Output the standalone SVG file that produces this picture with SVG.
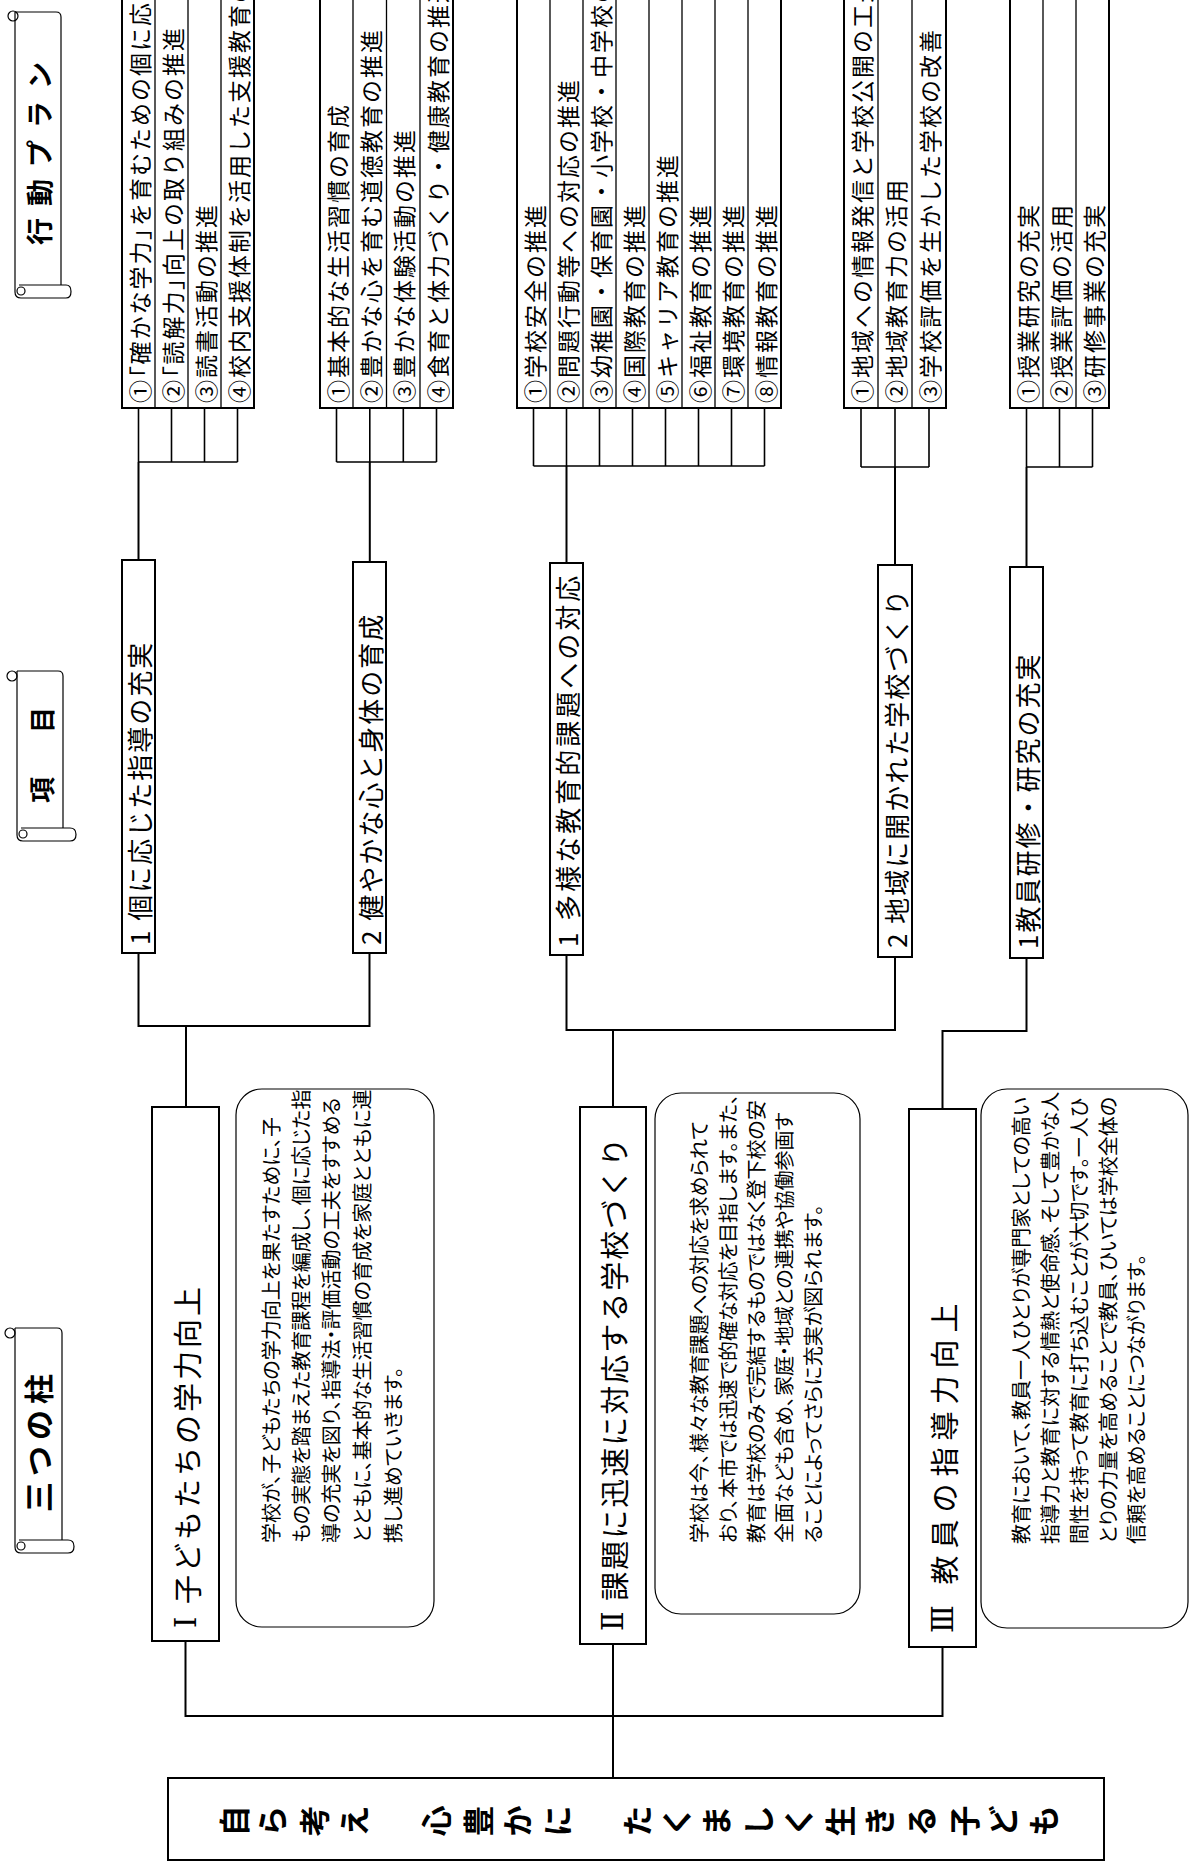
<svg xmlns="http://www.w3.org/2000/svg" width="1192" height="1865" viewBox="0 0 1192 1865">
<style>
.bg{fill:#fff}
.box{fill:#fff;stroke:#000;stroke-width:2}
.dv{stroke:#000;stroke-width:1.3;fill:none}
.conn{fill:none;stroke:#000;stroke-width:2}
.brk{fill:none;stroke:#000;stroke-width:1.6}
.desc{fill:#fff;stroke:#000;stroke-width:1.2}
.scr{fill:none;stroke:#000;stroke-width:1.2}
text{font-family:"Noto Sans CJK JP","Noto Sans CJK SC",sans-serif;fill:#000}
.tp{font-size:23px;letter-spacing:2px}
.pb{font-feature-settings:"palt"}
.ti{font-size:26px;letter-spacing:2px}
.tl{font-size:29px}
.td{font-size:20px;font-feature-settings:"palt"}
.th{font-weight:bold}
.tm{font-size:31px;font-weight:bold}
.rn{font-family:"DejaVu Serif","Noto Sans CJK JP",serif}
</style>
<rect class="bg" x="0" y="0" width="1192" height="1865"/>

<!-- headers -->
<g id="header-plan">
<path class="scr" d="M15,12 H56 Q61,12 61,17 V285 M15,12 V292 M19,285 H66 Q71,285 71,291.5 Q71,298 66,298 H21 Q15,298 15,292"/>
<circle class="scr" cx="13" cy="16" r="5"/>
<circle class="scr" cx="21" cy="291" r="4"/>
<text class="th" style="font-size:27px;letter-spacing:12px" transform="translate(38,245) rotate(-90)" dominant-baseline="central">行動プラン</text>
</g>
<g id="header-item">
<path class="scr" d="M17,671 H58 Q63,671 63,676 V828 M17,671 V835 M21,828 H70 Q76,828 76,834.5 Q76,841 70,841 H23 Q17,841 17,835"/>
<circle class="scr" cx="12" cy="676" r="5"/>
<circle class="scr" cx="23" cy="834" r="4"/>
<text class="th" style="font-size:26px;letter-spacing:44px" transform="translate(40,803) rotate(-90)" dominant-baseline="central">項目</text>
</g>
<g id="header-pillar">
<path class="scr" d="M15,1328 H57 Q62,1328 62,1333 V1540 M15,1328 V1547 M19,1540 H68 Q74,1540 74,1546.5 Q74,1553 68,1553 H21 Q15,1553 15,1547"/>
<circle class="scr" cx="10" cy="1333" r="5"/>
<circle class="scr" cx="21" cy="1546" r="4"/>
<text class="th" style="font-size:30px;letter-spacing:6px" transform="translate(37,1512) rotate(-90)" dominant-baseline="central">三つの柱</text>
</g>

<!-- connectors -->
<g id="connectors">
<path class="brk" d="M138.5,408 V462 M171.5,408 V462 M204.5,408 V462 M237.5,408 V462 M138.5,462 H237.5"/>
<path class="conn" d="M138.5,462 V560"/>
<path class="brk" d="M336.5,408 V462 M369.8,408 V462 M403.3,408 V462 M436.5,408 V462 M336.5,462 H436.5"/>
<path class="conn" d="M369.8,462 V562"/>
<path class="brk" d="M533.5,408 V466 M566.5,408 V466 M599.5,408 V466 M632.5,408 V466 M665.5,408 V466 M698.5,408 V466 M731.5,408 V466 M764.5,408 V466 M533.5,466 H764.5"/>
<path class="conn" d="M566.5,466 V563"/>
<path class="brk" d="M861,408 V467 M895,408 V467 M929,408 V467 M861,467 H929"/>
<path class="conn" d="M895,467 V565"/>
<path class="brk" d="M1026.5,408 V467 M1059.5,408 V467 M1092.5,408 V467 M1026.5,467 H1092.5"/>
<path class="conn" d="M1026.5,467 V567"/>
<path class="conn" d="M138.5,953 V1026 H369.5 V953 M186,1026 V1107"/>
<path class="conn" d="M566.5,955 V1030 H895 V957 M613,1030 V1107"/>
<path class="conn" d="M1026.5,958 V1031 H942.5 V1109"/>
<path class="conn" d="M185.5,1641 V1716 H942.5 V1647 M613,1644 V1778"/>
</g>

<!-- action plan groups -->
<g id="plan-a">
<rect class="box" x="122" y="-5" width="132" height="413"/>
<path class="dv" d="M155,-5 V408 M188,-5 V408 M221,-5 V408"/>
<text class="tp" transform="translate(138.5,403) rotate(-90)" dominant-baseline="central">①<tspan class="pb">「</tspan>確かな学力<tspan class="pb">」</tspan>を育むための個に応じ</text>
<text class="tp" transform="translate(171.5,403) rotate(-90)" dominant-baseline="central">②<tspan class="pb">「</tspan>読解力<tspan class="pb">」</tspan>向上の取り組みの推進</text>
<text class="tp" transform="translate(204.5,403) rotate(-90)" dominant-baseline="central">③読書活動の推進</text>
<text class="tp" transform="translate(237.5,403) rotate(-90)" dominant-baseline="central">④校内支援体制を活用した支援教育の</text>
</g>
<g id="plan-b">
<rect class="box" x="320" y="-5" width="133" height="413"/>
<path class="dv" d="M353,-5 V408 M386.5,-5 V408 M420,-5 V408"/>
<text class="tp" transform="translate(336.5,403) rotate(-90)" dominant-baseline="central">①基本的な生活習慣の育成</text>
<text class="tp" transform="translate(369.8,403) rotate(-90)" dominant-baseline="central">②豊かな心を育む道徳教育の推進</text>
<text class="tp" transform="translate(403.3,403) rotate(-90)" dominant-baseline="central">③豊かな体験活動の推進</text>
<text class="tp" transform="translate(436.5,403) rotate(-90)" dominant-baseline="central">④食育と体力づくり・健康教育の推進</text>
</g>
<g id="plan-c">
<rect class="box" x="517" y="-5" width="264" height="413"/>
<path class="dv" d="M550,-5 V408 M583,-5 V408 M616,-5 V408 M649,-5 V408 M682,-5 V408 M715,-5 V408 M748,-5 V408"/>
<text class="tp" transform="translate(533.5,403) rotate(-90)" dominant-baseline="central">①学校安全の推進</text>
<text class="tp" transform="translate(566.5,403) rotate(-90)" dominant-baseline="central">②問題行動等への対応の推進</text>
<text class="tp" transform="translate(599.5,403) rotate(-90)" dominant-baseline="central">③幼稚園・保育園・小学校・中学校の連</text>
<text class="tp" transform="translate(632.5,403) rotate(-90)" dominant-baseline="central">④国際教育の推進</text>
<text class="tp" transform="translate(665.5,403) rotate(-90)" dominant-baseline="central">⑤キャリア教育の推進</text>
<text class="tp" transform="translate(698.5,403) rotate(-90)" dominant-baseline="central">⑥福祉教育の推進</text>
<text class="tp" transform="translate(731.5,403) rotate(-90)" dominant-baseline="central">⑦環境教育の推進</text>
<text class="tp" transform="translate(764.5,403) rotate(-90)" dominant-baseline="central">⑧情報教育の推進</text>
</g>
<g id="plan-d">
<rect class="box" x="844" y="-5" width="102" height="413"/>
<path class="dv" d="M878,-5 V408 M912,-5 V408"/>
<text class="tp" transform="translate(861,403) rotate(-90)" dominant-baseline="central">①地域への情報発信と学校公開の工夫</text>
<text class="tp" transform="translate(895,403) rotate(-90)" dominant-baseline="central">②地域教育力の活用</text>
<text class="tp" transform="translate(929,403) rotate(-90)" dominant-baseline="central">③学校評価を生かした学校の改善</text>
</g>
<g id="plan-e">
<rect class="box" x="1010" y="-5" width="99" height="413"/>
<path class="dv" d="M1043,-5 V408 M1076,-5 V408"/>
<text class="tp" transform="translate(1026.5,403) rotate(-90)" dominant-baseline="central">①授業研究の充実</text>
<text class="tp" transform="translate(1059.5,403) rotate(-90)" dominant-baseline="central">②授業評価の活用</text>
<text class="tp" transform="translate(1092.5,403) rotate(-90)" dominant-baseline="central">③研修事業の充実</text>
</g>

<!-- items -->
<g id="item-1-1">
<rect class="box" x="122" y="560" width="33" height="393"/>
<text class="ti" transform="translate(138.5,945) rotate(-90)" dominant-baseline="central">1 個に応じた指導の充実</text>
</g>
<g id="item-1-2">
<rect class="box" x="353" y="562" width="33" height="391"/>
<text class="ti" transform="translate(369.5,945) rotate(-90)" dominant-baseline="central">2 健やかな心と身体の育成</text>
</g>
<g id="item-2-1">
<rect class="box" x="550" y="563" width="33" height="392"/>
<text class="ti" style="letter-spacing:3px" transform="translate(566.5,947) rotate(-90)" dominant-baseline="central">1 多様な教育的課題への対応</text>
</g>
<g id="item-2-2">
<rect class="box" x="878" y="565" width="34" height="392"/>
<text class="ti" transform="translate(895,948) rotate(-90)" dominant-baseline="central">2 地域に開かれた学校づくり</text>
</g>
<g id="item-3-1">
<rect class="box" x="1010" y="567" width="33" height="391"/>
<text class="ti" transform="translate(1026.5,949) rotate(-90)" dominant-baseline="central">1教員研修・研究の充実</text>
</g>

<!-- pillars -->
<g id="pillar-1">
<rect class="box" x="152" y="1107" width="67" height="534"/>
<text class="tl" style="letter-spacing:3px" transform="translate(185.5,1628) rotate(-90)" dominant-baseline="central"><tspan class="rn">Ⅰ</tspan> 子どもたちの学力向上</text>
</g>
<g id="desc-1">
<rect class="desc" x="236" y="1089" width="198" height="538" rx="26"/>
<text class="td" transform="translate(270,1543) rotate(-90)" dominant-baseline="central">学校が、子どもたちの学力向上を果たすために、子</text>
<text class="td" transform="translate(300,1543) rotate(-90)" dominant-baseline="central">もの実態を踏まえた教育課程を編成し、個に応じた指</text>
<text class="td" transform="translate(330,1543) rotate(-90)" dominant-baseline="central">導の充実を図り、指導法・評価活動の工夫をすすめる</text>
<text class="td" transform="translate(361,1543) rotate(-90)" dominant-baseline="central">とともに、基本的な生活習慣の育成を家庭とともに連</text>
<text class="td" transform="translate(392,1543) rotate(-90)" dominant-baseline="central">携し進めていきます。</text>
</g>
<g id="pillar-2">
<rect class="box" x="580" y="1107" width="66" height="537"/>
<text class="tl" style="letter-spacing:2px" transform="translate(613,1631) rotate(-90)" dominant-baseline="central"><tspan class="rn">Ⅱ</tspan> 課題に迅速に対応する学校づくり</text>
</g>
<g id="desc-2">
<rect class="desc" x="655" y="1093" width="205" height="521" rx="26"/>
<text class="td" transform="translate(698,1543) rotate(-90)" dominant-baseline="central">学校は今、様々な教育課題への対応を求められて</text>
<text class="td" transform="translate(727,1543) rotate(-90)" dominant-baseline="central">おり、本市では迅速で的確な対応を目指します。また、</text>
<text class="td" transform="translate(755,1543) rotate(-90)" dominant-baseline="central">教育は学校のみで完結するものではなく登下校の安</text>
<text class="td" transform="translate(783,1543) rotate(-90)" dominant-baseline="central">全面なども含め、家庭・地域との連携や協働参画す</text>
<text class="td" transform="translate(812,1543) rotate(-90)" dominant-baseline="central">ることによってさらに充実が図られます。</text>
</g>
<g id="pillar-3">
<rect class="box" x="909" y="1109" width="67" height="538"/>
<text class="tl" style="letter-spacing:7px" transform="translate(942.5,1633) rotate(-90)" dominant-baseline="central"><tspan class="rn">Ⅲ</tspan> 教員の指導力向上</text>
</g>
<g id="desc-3">
<rect class="desc" x="981" y="1089" width="207" height="539" rx="26"/>
<text class="td" transform="translate(1020,1544) rotate(-90)" dominant-baseline="central">教育において、教員一人ひとりが専門家としての高い</text>
<text class="td" transform="translate(1049,1544) rotate(-90)" dominant-baseline="central">指導力と教育に対する情熱と使命感、そして豊かな人</text>
<text class="td" transform="translate(1078,1544) rotate(-90)" dominant-baseline="central">間性を持って教育に打ち込むことが大切です。一人ひ</text>
<text class="td" transform="translate(1107,1544) rotate(-90)" dominant-baseline="central">とりの力量を高めることで教員、ひいては学校全体の</text>
<text class="td" transform="translate(1135,1544) rotate(-90)" dominant-baseline="central">信頼を高めることにつながります。</text>
</g>

<!-- goal -->
<g id="goal">
<rect class="box" x="168" y="1778" width="936" height="82"/>
<g transform="translate(0,1821) rotate(-90)">
<text class="tm" text-anchor="middle" dominant-baseline="central" x="0 0 0 0 0 0 0 0 0 0 0 0 0 0 0 0 0 0 0" y="232 270 312 352 434 476 515 555 635 674 714 756 796 838 877 919 962 1001 1041">自ら考え心豊かにたくましく生きる子ども</text>
</g>
</g>
</svg>
